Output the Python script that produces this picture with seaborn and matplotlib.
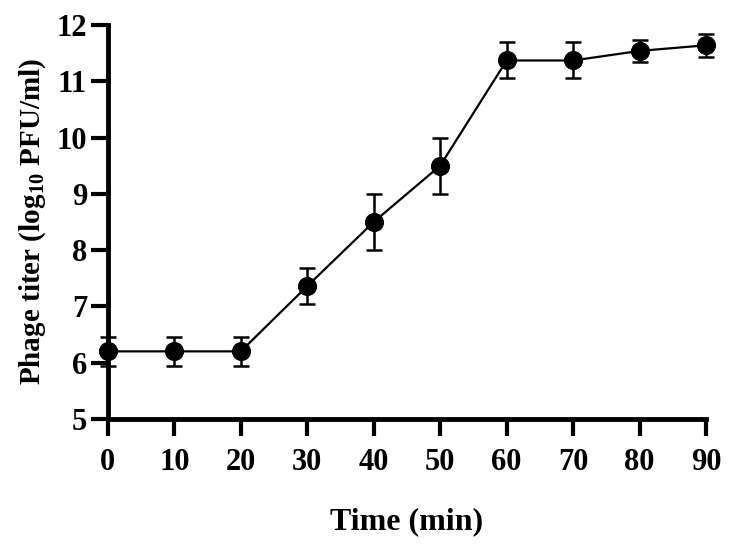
import matplotlib
matplotlib.use("Agg")
import matplotlib.pyplot as plt
import seaborn as sns
import pandas as pd

time_min = [0, 10, 20, 30, 40, 50, 60, 70, 80, 90]
titer = [6.2, 6.2, 6.2, 7.36, 8.5, 9.5, 11.37, 11.37, 11.54, 11.64]
titer_err = [0.26, 0.26, 0.26, 0.32, 0.5, 0.5, 0.32, 0.32, 0.2, 0.2]

df = pd.DataFrame({"time": time_min, "titer": titer, "err": titer_err})

sns.set_theme(style="ticks", rc={"axes.edgecolor": "black", "text.color": "black",
                                 "axes.labelcolor": "black", "xtick.color": "black",
                                 "ytick.color": "black"})
plt.rcParams["font.family"] = ["Liberation Serif", "DejaVu Serif"]
plt.rcParams["font.weight"] = "bold"
plt.rcParams["mathtext.default"] = "regular"

fig = plt.figure(figsize=(7.44, 5.44), dpi=100)
ax = fig.add_axes([0.145, 0.23, 0.804, 0.724])

ax.errorbar(df["time"], df["titer"], yerr=df["err"], fmt="none",
            ecolor="black", elinewidth=1.8, capsize=6, capthick=1.8, zorder=2)
sns.lineplot(x="time", y="titer", data=df, ax=ax, color="black", linewidth=1.6,
             marker="o", markersize=13, markeredgecolor="black", zorder=3)

ax.set_xlim(0, 90)
ax.set_ylim(5, 12)
ax.set_xticks(time_min)
ax.set_yticks(range(5, 13))
ax.set_xlabel("Time (min)", fontsize=23, fontweight="bold", labelpad=22)
ax.set_ylabel("Phage titer (log$_{10}$ PFU/ml)", fontsize=21, fontweight="bold", labelpad=6)

for s in ["top", "right"]:
    ax.spines[s].set_visible(False)
for s in ["left", "bottom"]:
    ax.spines[s].set_linewidth(3.5)
    ax.spines[s].set_capstyle("projecting")
ax.tick_params(axis="both", length=12, width=3, labelsize=22)
ax.tick_params(axis="x", pad=9)
ax.tick_params(axis="y", pad=3)
for lab in ax.get_xticklabels() + ax.get_yticklabels():
    lab.set_fontweight("bold")

for art in ax.lines + ax.collections:
    art.set_clip_on(False)

plt.savefig("out.png", dpi=100)
